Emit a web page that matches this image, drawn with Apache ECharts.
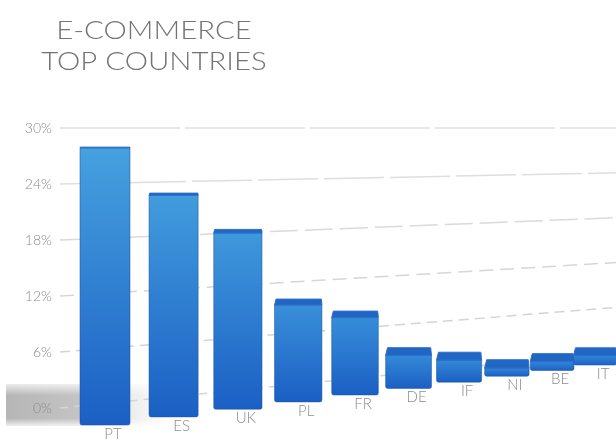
<!DOCTYPE html>
<html>
<head>
<meta charset="utf-8">
<script src="https://cdn.jsdelivr.net/npm/echarts@6/dist/echarts.min.js"></script>
<style>
  html, body { margin: 0; padding: 0; background: #ffffff; }
  #chart { width: 616px; height: 440px; }
</style>
</head>
<body>
<div id="chart"></div>
<script>
// Share of e-commerce by country (%)
const categories = ['PT', 'ES', 'UK', 'PL', 'FR', 'DE', 'IF', 'NI', 'BE', 'IT'];
const shares = [28, 23, 18.8, 10.6, 8.7, 3.8, 2.6, 1.0, 1.1, 1.2];
const tickValues = [0, 6, 12, 18, 24, 30];
const titleLines = ['E-COMMERCE', 'TOP COUNTRIES'];

const FONT = 'Lato, "Open Sans", sans-serif';

// Perspective set-up: the top of the value range sits on the horizon and the
// floor recedes toward a vanishing point far to the right.
const HORIZON_Y = 128;
const FRONT_SCALE = 1.0607;  // bars stand a little in front of the grid plane
const DEPTH_X = 0.03356;     // horizontal foreshortening per category step
const DEPTH_Y = 0.0281;      // vertical foreshortening per category step
const FIRST_X = 105;         // screen x of the nearest bar centre
const STEP_X = 74.42;        // screen step between the first two categories
const VANISH_X = 2850;       // where the grid lines converge

function screenX(t) { return (STEP_X * t + FIRST_X) / (DEPTH_X * t + 1); }
function frontY(flatY, t) {
  return HORIZON_Y + (flatY - HORIZON_Y) * FRONT_SCALE / (1 + DEPTH_Y * t);
}
function backY(flatY, x, left) {
  return HORIZON_Y + (flatY - HORIZON_Y) * (VANISH_X - x) / (VANISH_X - left);
}

function mix(a, b, f) {
  const pa = a.match(/\w\w/g).map(h => parseInt(h, 16));
  const pb = b.match(/\w\w/g).map(h => parseInt(h, 16));
  return 'rgb(' + pa.map((v, i) => Math.round(v + (pb[i] - v) * f)).join(',') + ')';
}

// nearer lines get shorter dashes, the far ones read almost solid
const gridStyles = {
  0: { dash: [8, 6], color: '#d4d4d4' },
  6: { dash: [10, 6], color: '#d4d4d4' },
  12: { dash: [14, 7], color: '#d6d6d6' },
  18: { dash: [28, 7], color: '#dadada' },
  24: { dash: [60, 6], color: '#dedede' },
  30: { dash: [120, 5], color: '#e0e0e0' }
};

const chart = echarts.init(document.getElementById('chart'), null, { renderer: 'canvas' });

chart.setOption({
  backgroundColor: '#ffffff',
  animation: false,
  grid: { left: 60, top: 128, bottom: 32, width: 560 },
  xAxis: { type: 'category', data: categories, show: false },
  yAxis: {
    type: 'value', min: 0, max: 30, interval: 6, z: 5,
    axisLine: { show: false }, axisTick: { show: false }, splitLine: { show: false },
    axisLabel: {
      formatter: '{value}%', color: '#8c8c8c', fontSize: 14,
      fontFamily: FONT, fontWeight: 300, margin: 8
    }
  },
  graphic: [
    // soft floor shadow on the left
    {
      type: 'rect', z: 0, silent: true,
      shape: { x: 6, y: 384, width: 190, height: 42 },
      style: {
        fill: new echarts.graphic.LinearGradient(0, 0, 1, 0, [
          { offset: 0, color: '#b6b6b6' },
          { offset: 0.4, color: '#c4c4c4' },
          { offset: 1, color: 'rgba(255,255,255,0)' }
        ])
      }
    },
    {
      type: 'rect', z: 0, silent: true,
      shape: { x: 0, y: 380, width: 200, height: 48 },
      style: {
        fill: new echarts.graphic.LinearGradient(0, 0, 0, 1, [
          { offset: 0, color: 'rgba(255,255,255,1)' },
          { offset: 0.32, color: 'rgba(255,255,255,0)' },
          { offset: 0.8, color: 'rgba(255,255,255,0)' },
          { offset: 1, color: 'rgba(255,255,255,1)' }
        ])
      }
    },
    {
      type: 'text', z: 10, x: 154, y: 15, scaleX: 1.13,
      style: {
        text: titleLines.join('\n'),
        fill: '#737373',
        font: '300 26px ' + FONT,
        lineHeight: 31,
        align: 'center', textAlign: 'center',
        verticalAlign: 'top', textVerticalAlign: 'top'
      }
    }
  ],
  series: [
    {
      // receding grid lines
      type: 'custom', z: 1, clip: false, silent: true,
      data: tickValues.map(v => [0, v]),
      encode: { x: 0, y: 1 },
      renderItem(params, api) {
        const cs = params.coordSys;
        const v = api.value(1);
        const p = api.coord([0, v]);
        const xa = cs.x, xb = api.getWidth();
        const st = gridStyles[v] || gridStyles[0];
        return {
          type: 'line',
          shape: { x1: xa, y1: backY(p[1], xa, cs.x), x2: xb, y2: backY(p[1], xb, cs.x) },
          style: { stroke: st.color, lineWidth: 1.5, lineDash: st.dash }
        };
      }
    },
    {
      // bars with a visible top face
      type: 'custom', z: 3, clip: false, silent: true,
      data: categories.map((c, i) => [i, shares[i]]),
      encode: { x: 0, y: 1 },
      renderItem(params, api) {
        const cs = params.coordSys;
        const idx = api.value(0);
        const band = api.size([1, 0])[0];
        const base = api.coord([idx, 0]);
        const top = api.coord([idx, api.value(1)]);
        const t = (base[0] - cs.x) / band - 0.5;
        const cx = screenX(t);
        const half = 25 / (1 + 0.018 * t);
        const y0 = frontY(base[1], t);
        const y1 = frontY(top[1], t);
        const depth = 0.034 * (y1 - HORIZON_Y);
        const f = Math.min(1, Math.max(0, (y1 - 140) / 285));
        const topColor = mix('#47a2df', '#2e82d6', f);
        const x0 = cx - half, x1 = cx + half;
        const inset = depth * 0.25;
        return {
          type: 'group',
          children: [
            {
              type: 'rect',
              shape: { x: x0, y: y1, width: x1 - x0, height: y0 - y1, r: [0, 0, 2, 2] },
              style: {
                fill: new echarts.graphic.LinearGradient(0, 0, 0, 1, [
                  { offset: 0, color: topColor },
                  { offset: 1, color: '#1b5fc4' }
                ]),
                stroke: 'rgba(24,82,170,0.5)', lineWidth: 1
              }
            },
            {
              type: 'polygon',
              shape: { points: [[x0, y1], [x1, y1], [x1 - inset * 0.4, y1 - depth], [x0 + inset, y1 - depth]] },
              style: { fill: '#2166c4', stroke: '#2b70c9', lineWidth: 1, lineJoin: 'round' }
            },
            {
              type: 'text',
              x: cx + 8, y: y0 + 9,
              style: {
                text: categories[idx],
                fill: '#8c8c8c',
                font: '300 15px ' + FONT,
                align: 'center', textAlign: 'center',
                verticalAlign: 'middle', textVerticalAlign: 'middle'
              }
            }
          ]
        };
      }
    }
  ]
});
</script>
</body>
</html>
